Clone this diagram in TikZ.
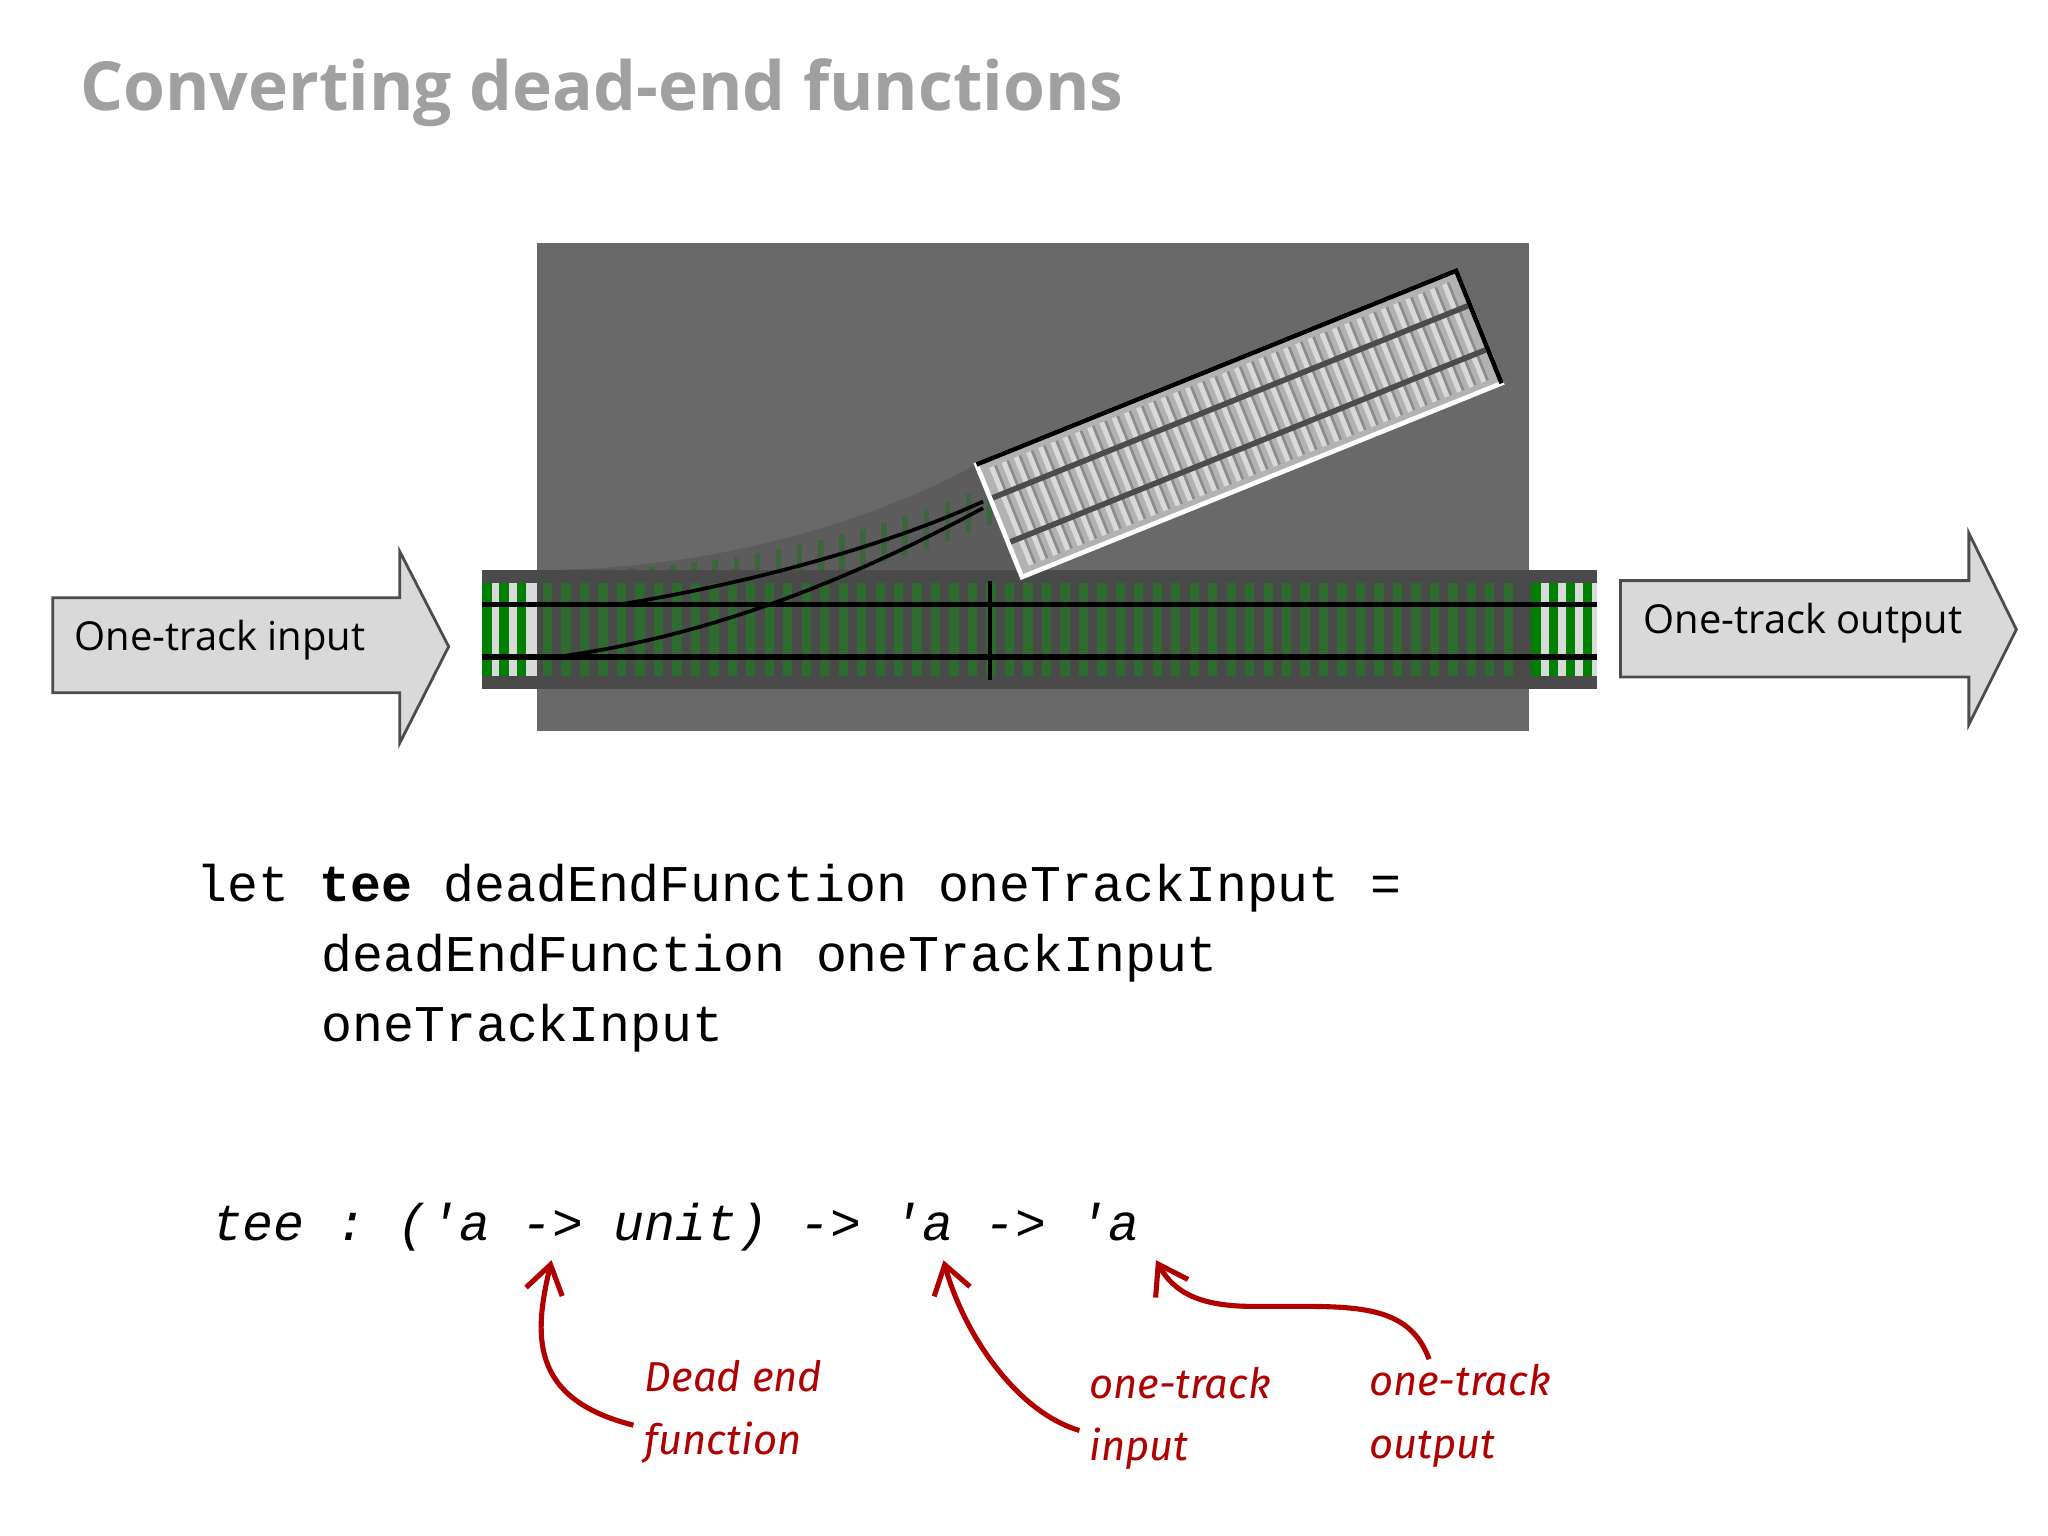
\documentclass[tikz,border=0pt]{standalone}
\usepackage{fontspec}
\setmainfont{Open Sans}
\setmonofont{Liberation Mono}
\newfontfamily\hand{Fira Sans}
\usetikzlibrary{arrows.meta}
\definecolor{ttl}{HTML}{A0A0A0}
\definecolor{bg}{HTML}{696969}
\definecolor{trk}{HTML}{4A4A4A}
\definecolor{grn}{HTML}{2E6B2E}
\definecolor{anno}{HTML}{B00000}
\definecolor{arr}{HTML}{D9D9D9}
\tikzset{
  bigarrow/.style={fill=arr,draw=black!70,line width=0.6pt},
  code/.style={anchor=base west,inner sep=0,font=\ttfamily\fontsize{11.1}{13}\selectfont},
  annot/.style={anchor=north west,inner sep=0,align=left,text=anno,font=\hand\itshape\fontsize{9}{13.5}\selectfont},
  annarrow/.style={draw=anno,line width=1.1pt,-{Straight Barb[length=6pt,width=8pt]}}
}
\begin{document}
\begin{tikzpicture}[x=0.01cm,y=-0.01cm]
\useasboundingbox (0,0) rectangle (1552,1164);
\fill[white] (0,0) rectangle (1552,1164);
\node[anchor=base west,inner sep=0,text=ttl,font=\bfseries\fontsize{14.6}{18}\selectfont] (title) at (60,84) {Converting dead-end functions};
% background
\fill[bg] (407,184) rectangle (1159,554);
% curve region
\fill[trk!90] (407,432) .. controls (560,432) and (680,385) .. (740,352) -- (775,437) -- (775,432) -- cycle;
\foreach \i in {0,...,20}{
  \draw[grn,line width=1.2pt,opacity=0.7] ({430+\i*16},{432-\i*\i*0.16}) -- ++(0,30);
}
% main track
\fill[trk] (365,432) rectangle (1210,522);
\fill[black!15] (365,442) rectangle (407,512);
\fill[black!15] (1160,442) rectangle (1210,512);
\foreach \x in {369,382,395,1164,1177,1190,1203}{
  \draw[green!50!black,line width=2pt] (\x,442) -- (\x,512);
}
\foreach \x in {415,429,...,1155}{
  \draw[grn,line width=2pt] (\x,442) -- (\x,512);
}
\draw[black,line width=1.2pt] (365,458) -- (1210,458);
\draw[black,line width=1.2pt] (365,498) -- (1210,498);
\draw[black,line width=0.8pt] (420,498) .. controls (560,480) and (680,420) .. (745,385);
\draw[black,line width=0.8pt] (470,458) .. controls (580,440) and (680,410) .. (745,380);
\draw[black,line width=0.8pt] (750,440) -- (750,515);
% diagonal track
\begin{scope}[shift={(740,352)},rotate=22]
  \fill[black!30] (0,0) rectangle (392,92);
  \foreach \t in {8,18,...,385}{
    \fill[white!85!black] (\t,6) rectangle ++(4,80);
    \fill[black!45] (\t+4,6) rectangle ++(2,80);
  }
  \draw[black!70,line width=1.2pt] (0,28) -- (392,28);
  \draw[black!70,line width=1.2pt] (0,64) -- (392,64);
  \draw[white,line width=1pt] (0,0) rectangle (392,92);
  \draw[black,line width=1pt] (0,0) -- (392,0) -- (392,92);
\end{scope}
% arrows
\draw[bigarrow] (40,453) -- (303,453) -- (303,418) -- (340,490) -- (303,563) -- (303,525) -- (40,525) -- cycle;
\node[anchor=west,inner sep=0,font=\fontsize{8.6}{10}\selectfont] (inp) at (56,485) {One-track input};
\draw[bigarrow] (1228,440) -- (1492,440) -- (1492,404) -- (1528,477) -- (1492,549) -- (1492,513) -- (1228,513) -- cycle;
\node[anchor=west,inner sep=0,font=\fontsize{8.6}{10}\selectfont] (outp) at (1245,472) {One-track output};
% code
\node[code] (c1) at (148,683) {let \textbf{tee} deadEndFunction oneTrackInput =};
\node[code] (c2) at (243,736) {deadEndFunction oneTrackInput};
\node[code] (c3) at (243,789) {oneTrackInput};
\node[code,font=\ttfamily\itshape\fontsize{11.1}{13}\selectfont] (sig) at (160,940) {tee : ('a -> unit) -> 'a -> 'a};
% annotations
\node[annot] (a1) at (488,1030) {Dead end\\function};
\node[annot] (a2) at (825,1035) {one-track\\input};
\node[annot] (a3) at (1037,1033) {one-track\\output};
\coordinate (t1) at (418,955);
\coordinate (t2) at (715,955);
\coordinate (t3) at (876,955);
\coordinate (s1) at (480,1080);
\coordinate (s2) at (818,1084);
\coordinate (s3) at (1083,1030);
\draw[annarrow] (s1) .. controls (400,1060) and (405,1010) .. (t1);
\draw[annarrow] (s2) .. controls (770,1070) and (730,1010) .. (t2);
\draw[annarrow] (s3) .. controls (1070,995) and (1040,990) .. (990,990) -- (950,990) .. controls (910,990) and (890,980) .. (t3);
\end{tikzpicture}
\end{document}
